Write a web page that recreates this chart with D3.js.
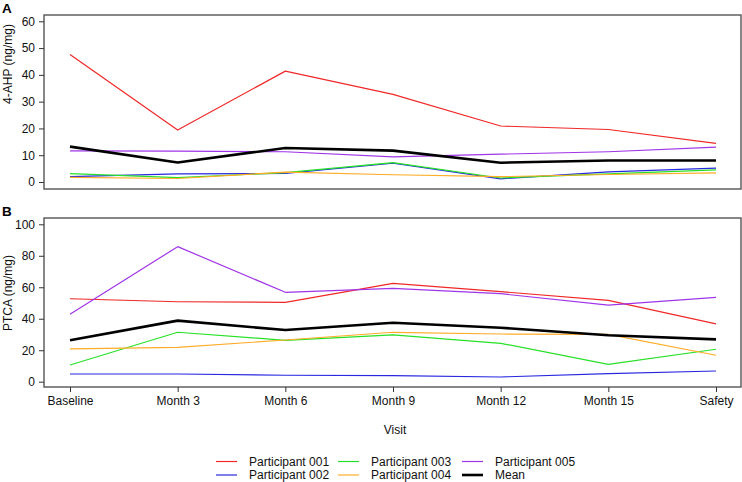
<!DOCTYPE html>
<html><head><meta charset="utf-8">
<script src="https://cdn.jsdelivr.net/npm/d3@7"></script>
<style>
body{margin:0;background:#fff;}
svg{display:block;font-family:"Liberation Sans",Arial,sans-serif;}
</style></head>
<body>
<svg id="chart" width="742" height="482"></svg>
<script>
const visits = ["Baseline","Month 3","Month 6","Month 9","Month 12","Month 15","Safety"];
const seriesNames = ["Participant 001","Participant 002","Participant 003","Participant 004","Participant 005","Mean"];
const seriesColors = ["#f02828","#2828e0","#28e028","#ffac28","#a034e8","#000000"];

// Panel A: 4-AHP (ng/mg)
const ahp001 = [47.6, 19.4, 41.4, 32.7, 20.9, 19.6, 14.4];
const ahp002 = [2.0, 3.0, 3.2, 7.0, 1.2, 3.8, 5.2];
const ahp003 = [3.1, 1.6, 3.5, 7.2, 1.5, 3.0, 4.5];
const ahp004 = [1.7, 1.3, 3.7, 2.7, 2.0, 2.8, 3.4];
const ahp005 = [11.6, 11.5, 11.3, 9.4, 10.4, 11.3, 13.0];
const ahpMean = [13.2, 7.3, 12.7, 11.7, 7.2, 8.0, 8.0];
const ahpTicks = [0,10,20,30,40,50,60];

// Panel B: PTCA (ng/mg)
const ptca001 = [52.7, 50.8, 50.4, 62.5, 57.2, 51.7, 36.7];
const ptca002 = [4.9, 4.9, 4.1, 3.9, 3.0, 5.1, 6.8];
const ptca003 = [10.6, 31.4, 26.3, 29.7, 24.4, 11.0, 20.6];
const ptca004 = [20.8, 21.8, 26.5, 31.4, 30.3, 30.1, 16.8];
const ptca005 = [42.8, 85.8, 56.8, 59.3, 55.9, 48.7, 53.6];
const ptcaMean = [26.3, 38.8, 32.8, 37.5, 34.3, 29.5, 26.9];
const ptcaTicks = [0,20,40,60,80,100];

const svg = d3.select("#chart");
const x = d3.scalePoint().domain(visits).range([70, 716]);
const boxL = 44, boxR = 741;
const FS = 12;

function panel(opts){
  const g = svg.append("g");
  const y = d3.scaleLinear().domain(opts.domain).range(opts.range);
  const line = d3.line().x((d,i)=>x(visits[i])).y(d=>y(d));
  opts.data.forEach((arr,k)=>{
    g.append("path").attr("d", line(arr)).attr("fill","none")
      .attr("stroke", seriesColors[k])
      .attr("stroke-width", k===5 ? 2.6 : 1.2)
      .attr("stroke-linejoin","round");
  });
  g.append("rect").attr("x",boxL).attr("y",opts.top).attr("width",boxR-boxL).attr("height",opts.bottom-opts.top)
    .attr("fill","none").attr("stroke","#555").attr("stroke-width",1.4);
  const ya = g.append("g").attr("transform",`translate(${boxL},0)`)
    .call(d3.axisLeft(y).tickValues(opts.ticks).tickSize(5).tickPadding(4).tickFormat(d3.format("d")));
  ya.select(".domain").remove();
  ya.selectAll(".tick line").attr("stroke","#333");
  ya.selectAll(".tick text").attr("font-size",FS).attr("fill","#111").attr("font-family","Liberation Sans, Arial, sans-serif");
  g.append("text").attr("transform",`translate(12,${opts.titleY}) rotate(-90)`)
    .attr("text-anchor","middle").attr("font-size",FS).attr("fill","#111").text(opts.title);
  g.append("text").attr("x",2).attr("y",opts.top-2.3).attr("font-size",13.5).attr("font-weight","bold").text(opts.letter);
  if(opts.xaxis){
    const xa = g.append("g").attr("transform",`translate(0,${opts.bottom})`)
      .call(d3.axisBottom(x).tickSize(5).tickPadding(4));
    xa.select(".domain").remove();
    xa.selectAll(".tick line").attr("stroke","#333");
    xa.selectAll(".tick text").attr("font-size",FS).attr("fill","#111").attr("font-family","Liberation Sans, Arial, sans-serif");
  }
}

panel({domain:[0,60], range:[182,21.3], ticks:ahpTicks, top:15, bottom:189,
  data:[ahp001,ahp002,ahp003,ahp004,ahp005,ahpMean], title:"4-AHP (ng/mg)", titleY:64, letter:"A", xaxis:false});
panel({domain:[0,100], range:[381.7,224.3], ticks:ptcaTicks, top:218, bottom:387,
  data:[ptca001,ptca002,ptca003,ptca004,ptca005,ptcaMean], title:"PTCA (ng/mg)", titleY:293, letter:"B", xaxis:true});

svg.append("text").attr("x",395).attr("y",434).attr("text-anchor","middle").attr("font-size",FS).attr("fill","#111").text("Visit");

const legCols = [216, 338, 462];
const legRows = [461.5, 475];
const leg = svg.append("g");
seriesNames.forEach((name,k)=>{
  const col = Math.floor(k/2), row = k%2;
  const lx = legCols[col], ly = legRows[row];
  leg.append("line").attr("x1",lx).attr("x2",lx+21).attr("y1",ly).attr("y2",ly)
    .attr("stroke",seriesColors[k]).attr("stroke-width", k===5?2.6:1.2);
  leg.append("text").attr("x",lx+33).attr("y",ly+4.2).attr("font-size",FS).attr("fill","#111").text(name);
});
</script>
</body></html>
